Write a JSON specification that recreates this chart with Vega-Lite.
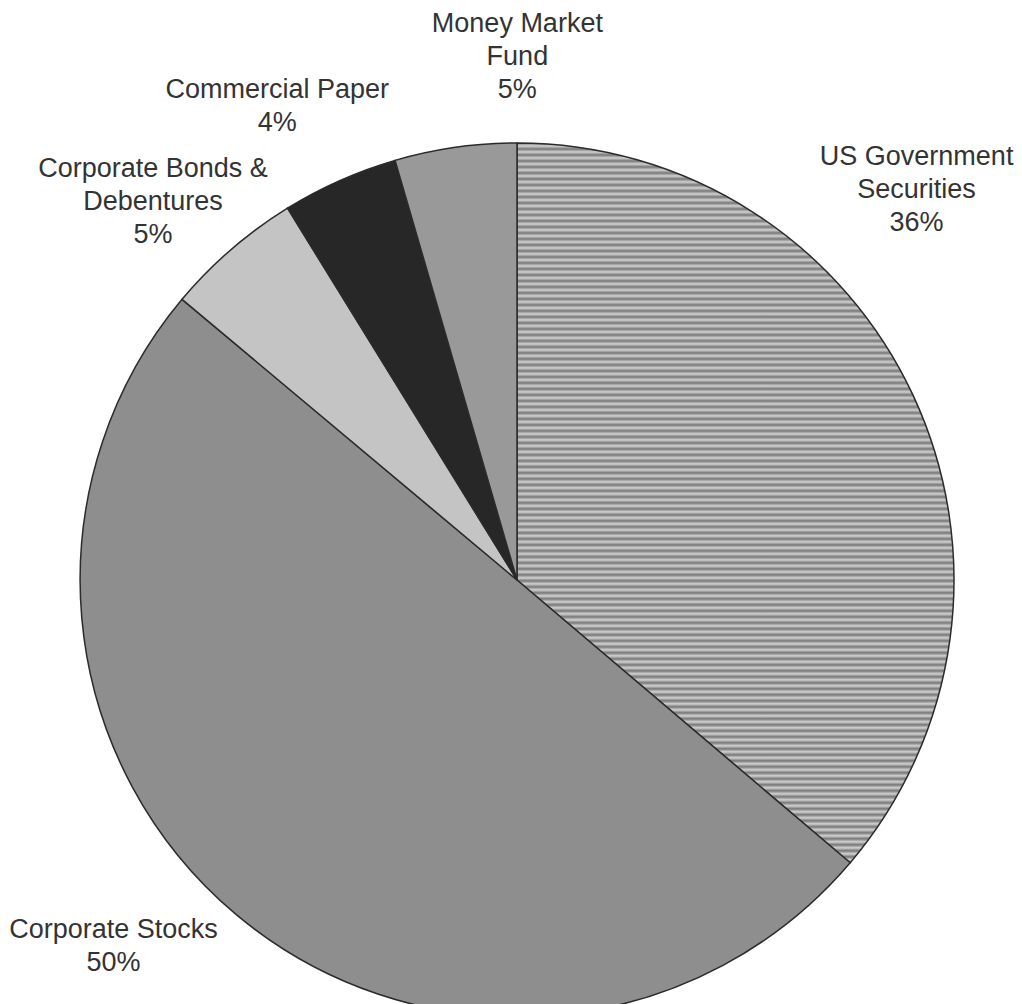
{
  "$schema": "https://vega.github.io/schema/vega-lite/v6.json",
  "width": 874,
  "height": 848,
  "autosize": {"type": "none"},
  "padding": {"left": 80, "top": 156, "right": 68, "bottom": 0},
  "background": "white",
  "config": {"view": {"stroke": null}},
  "data": {
    "values": [
      {"category": "US Government Securities", "value": 36.2, "rank": 1, "label": "US Government\nSecurities\n36%"},
      {"category": "Corporate Stocks", "value": 49.9, "rank": 2, "label": "Corporate Stocks\n50%"},
      {"category": "Corporate Bonds & Debentures", "value": 5.1, "rank": 3, "label": "Corporate Bonds &\nDebentures\n5%"},
      {"category": "Commercial Paper", "value": 4.3, "rank": 4, "label": "Commercial Paper\n4%"},
      {"category": "Money Market Fund", "value": 4.5, "rank": 5, "label": "Money Market\nFund\n5%"}
    ]
  },
  "layer": [
    {
      "mark": {"type": "arc", "outerRadius": 437, "stroke": "#2b2b2b", "strokeWidth": 1.5},
      "encoding": {
        "theta": {"field": "value", "type": "quantitative", "stack": true},
        "order": {"field": "rank", "type": "quantitative"},
        "fill": {
          "condition": {
            "test": "datum.rank === 1",
            "value": {
              "gradient": "linear", "x1": 0, "y1": 0, "x2": 0, "y2": 1,
              "stops": [
                {"offset": 0, "color": "#777"}, {"offset": 0.0042, "color": "#d2d2d2"}, {"offset": 0.0083, "color": "#777"}, {"offset": 0.0125, "color": "#d2d2d2"}, {"offset": 0.0167, "color": "#777"}, {"offset": 0.0208, "color": "#d2d2d2"}, {"offset": 0.025, "color": "#777"}, {"offset": 0.0292, "color": "#d2d2d2"}, {"offset": 0.0333, "color": "#777"}, {"offset": 0.0375, "color": "#d2d2d2"}, {"offset": 0.0417, "color": "#777"}, {"offset": 0.0458, "color": "#d2d2d2"}, {"offset": 0.05, "color": "#777"}, {"offset": 0.0542, "color": "#d2d2d2"}, {"offset": 0.0583, "color": "#777"}, {"offset": 0.0625, "color": "#d2d2d2"}, {"offset": 0.0667, "color": "#777"}, {"offset": 0.0708, "color": "#d2d2d2"}, {"offset": 0.075, "color": "#777"}, {"offset": 0.0792, "color": "#d2d2d2"}, {"offset": 0.0833, "color": "#777"}, {"offset": 0.0875, "color": "#d2d2d2"}, {"offset": 0.0917, "color": "#777"}, {"offset": 0.0958, "color": "#d2d2d2"},
                {"offset": 0.1, "color": "#777"}, {"offset": 0.1042, "color": "#d2d2d2"}, {"offset": 0.1083, "color": "#777"}, {"offset": 0.1125, "color": "#d2d2d2"}, {"offset": 0.1167, "color": "#777"}, {"offset": 0.1208, "color": "#d2d2d2"}, {"offset": 0.125, "color": "#777"}, {"offset": 0.1292, "color": "#d2d2d2"}, {"offset": 0.1333, "color": "#777"}, {"offset": 0.1375, "color": "#d2d2d2"}, {"offset": 0.1417, "color": "#777"}, {"offset": 0.1458, "color": "#d2d2d2"}, {"offset": 0.15, "color": "#777"}, {"offset": 0.1542, "color": "#d2d2d2"}, {"offset": 0.1583, "color": "#777"}, {"offset": 0.1625, "color": "#d2d2d2"}, {"offset": 0.1667, "color": "#777"}, {"offset": 0.1708, "color": "#d2d2d2"}, {"offset": 0.175, "color": "#777"}, {"offset": 0.1792, "color": "#d2d2d2"}, {"offset": 0.1833, "color": "#777"}, {"offset": 0.1875, "color": "#d2d2d2"}, {"offset": 0.1917, "color": "#777"}, {"offset": 0.1958, "color": "#d2d2d2"},
                {"offset": 0.2, "color": "#777"}, {"offset": 0.2042, "color": "#d2d2d2"}, {"offset": 0.2083, "color": "#777"}, {"offset": 0.2125, "color": "#d2d2d2"}, {"offset": 0.2167, "color": "#777"}, {"offset": 0.2208, "color": "#d2d2d2"}, {"offset": 0.225, "color": "#777"}, {"offset": 0.2292, "color": "#d2d2d2"}, {"offset": 0.2333, "color": "#777"}, {"offset": 0.2375, "color": "#d2d2d2"}, {"offset": 0.2417, "color": "#777"}, {"offset": 0.2458, "color": "#d2d2d2"}, {"offset": 0.25, "color": "#777"}, {"offset": 0.2542, "color": "#d2d2d2"}, {"offset": 0.2583, "color": "#777"}, {"offset": 0.2625, "color": "#d2d2d2"}, {"offset": 0.2667, "color": "#777"}, {"offset": 0.2708, "color": "#d2d2d2"}, {"offset": 0.275, "color": "#777"}, {"offset": 0.2792, "color": "#d2d2d2"}, {"offset": 0.2833, "color": "#777"}, {"offset": 0.2875, "color": "#d2d2d2"}, {"offset": 0.2917, "color": "#777"}, {"offset": 0.2958, "color": "#d2d2d2"},
                {"offset": 0.3, "color": "#777"}, {"offset": 0.3042, "color": "#d2d2d2"}, {"offset": 0.3083, "color": "#777"}, {"offset": 0.3125, "color": "#d2d2d2"}, {"offset": 0.3167, "color": "#777"}, {"offset": 0.3208, "color": "#d2d2d2"}, {"offset": 0.325, "color": "#777"}, {"offset": 0.3292, "color": "#d2d2d2"}, {"offset": 0.3333, "color": "#777"}, {"offset": 0.3375, "color": "#d2d2d2"}, {"offset": 0.3417, "color": "#777"}, {"offset": 0.3458, "color": "#d2d2d2"}, {"offset": 0.35, "color": "#777"}, {"offset": 0.3542, "color": "#d2d2d2"}, {"offset": 0.3583, "color": "#777"}, {"offset": 0.3625, "color": "#d2d2d2"}, {"offset": 0.3667, "color": "#777"}, {"offset": 0.3708, "color": "#d2d2d2"}, {"offset": 0.375, "color": "#777"}, {"offset": 0.3792, "color": "#d2d2d2"}, {"offset": 0.3833, "color": "#777"}, {"offset": 0.3875, "color": "#d2d2d2"}, {"offset": 0.3917, "color": "#777"}, {"offset": 0.3958, "color": "#d2d2d2"},
                {"offset": 0.4, "color": "#777"}, {"offset": 0.4042, "color": "#d2d2d2"}, {"offset": 0.4083, "color": "#777"}, {"offset": 0.4125, "color": "#d2d2d2"}, {"offset": 0.4167, "color": "#777"}, {"offset": 0.4208, "color": "#d2d2d2"}, {"offset": 0.425, "color": "#777"}, {"offset": 0.4292, "color": "#d2d2d2"}, {"offset": 0.4333, "color": "#777"}, {"offset": 0.4375, "color": "#d2d2d2"}, {"offset": 0.4417, "color": "#777"}, {"offset": 0.4458, "color": "#d2d2d2"}, {"offset": 0.45, "color": "#777"}, {"offset": 0.4542, "color": "#d2d2d2"}, {"offset": 0.4583, "color": "#777"}, {"offset": 0.4625, "color": "#d2d2d2"}, {"offset": 0.4667, "color": "#777"}, {"offset": 0.4708, "color": "#d2d2d2"}, {"offset": 0.475, "color": "#777"}, {"offset": 0.4792, "color": "#d2d2d2"}, {"offset": 0.4833, "color": "#777"}, {"offset": 0.4875, "color": "#d2d2d2"}, {"offset": 0.4917, "color": "#777"}, {"offset": 0.4958, "color": "#d2d2d2"},
                {"offset": 0.5, "color": "#777"}, {"offset": 0.5042, "color": "#d2d2d2"}, {"offset": 0.5083, "color": "#777"}, {"offset": 0.5125, "color": "#d2d2d2"}, {"offset": 0.5167, "color": "#777"}, {"offset": 0.5208, "color": "#d2d2d2"}, {"offset": 0.525, "color": "#777"}, {"offset": 0.5292, "color": "#d2d2d2"}, {"offset": 0.5333, "color": "#777"}, {"offset": 0.5375, "color": "#d2d2d2"}, {"offset": 0.5417, "color": "#777"}, {"offset": 0.5458, "color": "#d2d2d2"}, {"offset": 0.55, "color": "#777"}, {"offset": 0.5542, "color": "#d2d2d2"}, {"offset": 0.5583, "color": "#777"}, {"offset": 0.5625, "color": "#d2d2d2"}, {"offset": 0.5667, "color": "#777"}, {"offset": 0.5708, "color": "#d2d2d2"}, {"offset": 0.575, "color": "#777"}, {"offset": 0.5792, "color": "#d2d2d2"}, {"offset": 0.5833, "color": "#777"}, {"offset": 0.5875, "color": "#d2d2d2"}, {"offset": 0.5917, "color": "#777"}, {"offset": 0.5958, "color": "#d2d2d2"},
                {"offset": 0.6, "color": "#777"}, {"offset": 0.6042, "color": "#d2d2d2"}, {"offset": 0.6083, "color": "#777"}, {"offset": 0.6125, "color": "#d2d2d2"}, {"offset": 0.6167, "color": "#777"}, {"offset": 0.6208, "color": "#d2d2d2"}, {"offset": 0.625, "color": "#777"}, {"offset": 0.6292, "color": "#d2d2d2"}, {"offset": 0.6333, "color": "#777"}, {"offset": 0.6375, "color": "#d2d2d2"}, {"offset": 0.6417, "color": "#777"}, {"offset": 0.6458, "color": "#d2d2d2"}, {"offset": 0.65, "color": "#777"}, {"offset": 0.6542, "color": "#d2d2d2"}, {"offset": 0.6583, "color": "#777"}, {"offset": 0.6625, "color": "#d2d2d2"}, {"offset": 0.6667, "color": "#777"}, {"offset": 0.6708, "color": "#d2d2d2"}, {"offset": 0.675, "color": "#777"}, {"offset": 0.6792, "color": "#d2d2d2"}, {"offset": 0.6833, "color": "#777"}, {"offset": 0.6875, "color": "#d2d2d2"}, {"offset": 0.6917, "color": "#777"}, {"offset": 0.6958, "color": "#d2d2d2"},
                {"offset": 0.7, "color": "#777"}, {"offset": 0.7042, "color": "#d2d2d2"}, {"offset": 0.7083, "color": "#777"}, {"offset": 0.7125, "color": "#d2d2d2"}, {"offset": 0.7167, "color": "#777"}, {"offset": 0.7208, "color": "#d2d2d2"}, {"offset": 0.725, "color": "#777"}, {"offset": 0.7292, "color": "#d2d2d2"}, {"offset": 0.7333, "color": "#777"}, {"offset": 0.7375, "color": "#d2d2d2"}, {"offset": 0.7417, "color": "#777"}, {"offset": 0.7458, "color": "#d2d2d2"}, {"offset": 0.75, "color": "#777"}, {"offset": 0.7542, "color": "#d2d2d2"}, {"offset": 0.7583, "color": "#777"}, {"offset": 0.7625, "color": "#d2d2d2"}, {"offset": 0.7667, "color": "#777"}, {"offset": 0.7708, "color": "#d2d2d2"}, {"offset": 0.775, "color": "#777"}, {"offset": 0.7792, "color": "#d2d2d2"}, {"offset": 0.7833, "color": "#777"}, {"offset": 0.7875, "color": "#d2d2d2"}, {"offset": 0.7917, "color": "#777"}, {"offset": 0.7958, "color": "#d2d2d2"},
                {"offset": 0.8, "color": "#777"}, {"offset": 0.8042, "color": "#d2d2d2"}, {"offset": 0.8083, "color": "#777"}, {"offset": 0.8125, "color": "#d2d2d2"}, {"offset": 0.8167, "color": "#777"}, {"offset": 0.8208, "color": "#d2d2d2"}, {"offset": 0.825, "color": "#777"}, {"offset": 0.8292, "color": "#d2d2d2"}, {"offset": 0.8333, "color": "#777"}, {"offset": 0.8375, "color": "#d2d2d2"}, {"offset": 0.8417, "color": "#777"}, {"offset": 0.8458, "color": "#d2d2d2"}, {"offset": 0.85, "color": "#777"}, {"offset": 0.8542, "color": "#d2d2d2"}, {"offset": 0.8583, "color": "#777"}, {"offset": 0.8625, "color": "#d2d2d2"}, {"offset": 0.8667, "color": "#777"}, {"offset": 0.8708, "color": "#d2d2d2"}, {"offset": 0.875, "color": "#777"}, {"offset": 0.8792, "color": "#d2d2d2"}, {"offset": 0.8833, "color": "#777"}, {"offset": 0.8875, "color": "#d2d2d2"}, {"offset": 0.8917, "color": "#777"}, {"offset": 0.8958, "color": "#d2d2d2"},
                {"offset": 0.9, "color": "#777"}, {"offset": 0.9042, "color": "#d2d2d2"}, {"offset": 0.9083, "color": "#777"}, {"offset": 0.9125, "color": "#d2d2d2"}, {"offset": 0.9167, "color": "#777"}, {"offset": 0.9208, "color": "#d2d2d2"}, {"offset": 0.925, "color": "#777"}, {"offset": 0.9292, "color": "#d2d2d2"}, {"offset": 0.9333, "color": "#777"}, {"offset": 0.9375, "color": "#d2d2d2"}, {"offset": 0.9417, "color": "#777"}, {"offset": 0.9458, "color": "#d2d2d2"}, {"offset": 0.95, "color": "#777"}, {"offset": 0.9542, "color": "#d2d2d2"}, {"offset": 0.9583, "color": "#777"}, {"offset": 0.9625, "color": "#d2d2d2"}, {"offset": 0.9667, "color": "#777"}, {"offset": 0.9708, "color": "#d2d2d2"}, {"offset": 0.975, "color": "#777"}, {"offset": 0.9792, "color": "#d2d2d2"}, {"offset": 0.9833, "color": "#777"}, {"offset": 0.9875, "color": "#d2d2d2"}, {"offset": 0.9917, "color": "#777"}, {"offset": 0.9958, "color": "#d2d2d2"},
                {"offset": 1, "color": "#777"}
              ]
            }
          },
          "field": "category", "type": "nominal", "legend": null,
          "scale": {
            "domain": ["US Government Securities", "Corporate Stocks", "Corporate Bonds & Debentures", "Commercial Paper", "Money Market Fund"],
            "range": ["#a6a6a6", "#8e8e8e", "#c4c4c4", "#272727", "#999999"]
          }
        }
      }
    },
    {
      "mark": {"type": "text", "radius": 480, "dx": -36, "dy": -221, "font": "Liberation Sans", "fontSize": 27, "lineHeight": 33, "lineBreak": "\n", "align": "center", "baseline": "middle", "fill": "#333333"},
      "encoding": {
        "theta": {"field": "value", "type": "quantitative", "stack": true},
        "order": {"field": "rank", "type": "quantitative"},
        "detail": {"field": "category", "type": "nominal"},
        "text": {"condition": {"test": "datum.rank === 1", "field": "label", "type": "nominal"}, "value": ""}
      }
    },
    {
      "mark": {"type": "text", "radius": 480, "dx": -94, "dy": -16.5, "font": "Liberation Sans", "fontSize": 27, "lineHeight": 33, "lineBreak": "\n", "align": "center", "baseline": "middle", "fill": "#333333"},
      "encoding": {
        "theta": {"field": "value", "type": "quantitative", "stack": true},
        "order": {"field": "rank", "type": "quantitative"},
        "detail": {"field": "category", "type": "nominal"},
        "text": {"condition": {"test": "datum.rank === 2", "field": "label", "type": "nominal"}, "value": ""}
      }
    },
    {
      "mark": {"type": "text", "radius": 480, "dx": -50, "dy": -48, "font": "Liberation Sans", "fontSize": 27, "lineHeight": 33, "lineBreak": "\n", "align": "center", "baseline": "middle", "fill": "#333333"},
      "encoding": {
        "theta": {"field": "value", "type": "quantitative", "stack": true},
        "order": {"field": "rank", "type": "quantitative"},
        "detail": {"field": "category", "type": "nominal"},
        "text": {"condition": {"test": "datum.rank === 3", "field": "label", "type": "nominal"}, "value": ""}
      }
    },
    {
      "mark": {"type": "text", "radius": 480, "dx": -45, "dy": -51.5, "font": "Liberation Sans", "fontSize": 27, "lineHeight": 33, "lineBreak": "\n", "align": "center", "baseline": "middle", "fill": "#333333"},
      "encoding": {
        "theta": {"field": "value", "type": "quantitative", "stack": true},
        "order": {"field": "rank", "type": "quantitative"},
        "detail": {"field": "category", "type": "nominal"},
        "text": {"condition": {"test": "datum.rank === 4", "field": "label", "type": "nominal"}, "value": ""}
      }
    },
    {
      "mark": {"type": "text", "radius": 480, "dx": 68, "dy": -81, "font": "Liberation Sans", "fontSize": 27, "lineHeight": 33, "lineBreak": "\n", "align": "center", "baseline": "middle", "fill": "#333333"},
      "encoding": {
        "theta": {"field": "value", "type": "quantitative", "stack": true},
        "order": {"field": "rank", "type": "quantitative"},
        "detail": {"field": "category", "type": "nominal"},
        "text": {"condition": {"test": "datum.rank === 5", "field": "label", "type": "nominal"}, "value": ""}
      }
    }
  ]
}
